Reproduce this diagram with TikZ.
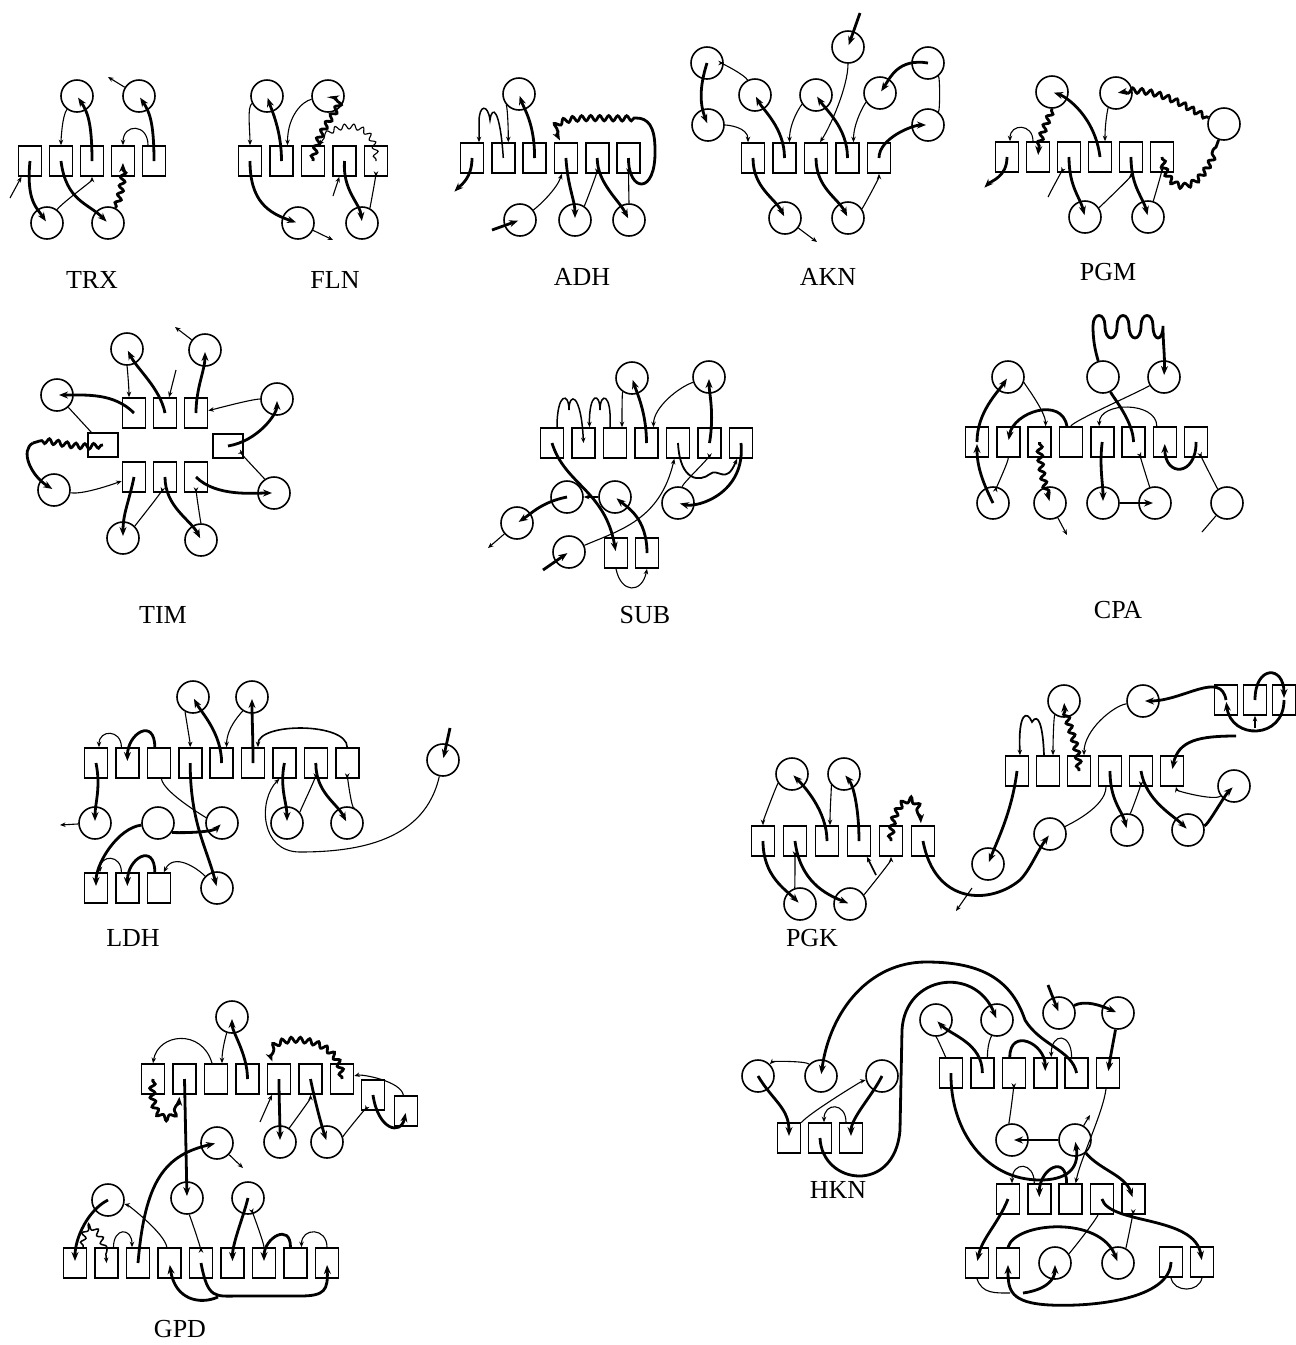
\documentclass[tikz,border=0pt]{standalone}
\usepackage{fontspec}
\setmainfont{Liberation Serif}
\usetikzlibrary{arrows.meta,decorations.pathmorphing}

\begin{document}
\begin{tikzpicture}[x=1pt,y=-1pt,
  res/.style={draw,line width=1.6pt,minimum width=23pt,minimum height=30pt,inner sep=0pt},
  resw/.style={res,minimum width=30pt,minimum height=24pt},
  site/.style={draw,circle,line width=1.6pt,minimum size=32pt,inner sep=0pt},
  strand/.style={line width=2.8pt,-{Stealth[length=9pt,width=7pt]},shorten >=2pt},
  link/.style={line width=1.1pt,-{Stealth[length=5.5pt,width=4.5pt]}},
  tie/.style={line width=1.1pt},
  bond/.style={line width=2.8pt},
  wavy/.style={decorate,decoration={snake,amplitude=2.6pt,segment length=9pt,pre length=2pt,post length=7pt}},
  lbl/.style={font=\fontsize{26}{28}\selectfont}]
\useasboundingbox (0,0) rectangle (1296,1345);

% TRX
\foreach \i in {1,...,5} \node[res] (trx\i) at ({30+31*(\i-1)},161) {};
\node[site] (trxa) at (77,96) {};
\node[site] (trxb) at (139,96) {};
\node[site] (trxc) at (47,223) {};
\node[site] (trxd) at (108,223) {};
\coordinate (trxin) at (10,198);
\coordinate (trxout) at (108,77);
\draw[link] (trxin) -- (trx1);
\draw[strand] (trx1.center) .. controls +(-4,40) and +(-10,-15) .. (trxc.center);
\draw[link] (trxc) .. controls +(15,-20) and +(0,20) .. (trx3);
\draw[strand] (trx2.center) .. controls +(5,40) and +(-20,-20) .. (trxd.center);
\draw[strand,wavy] (trxd) .. controls +(10,-20) and +(0,25) .. (trx4.center);
\draw[link] (trxa) .. controls +(-15,20) and +(0,-20) .. (trx2);
\draw[strand] (trx3.center) .. controls +(0,-40) and +(10,15) .. (trxa.center);
\draw[link] ([xshift=-6pt]trx5.north) .. controls +(0,-22) and +(0,-22) .. (trx4.north);
\draw[strand] (trx5.center) .. controls +(0,-40) and +(10,15) .. (trxb.center);
\draw[link] (trxb) -- (trxout);
\node[lbl] (trxl) at (92,280) {TRX};

% FLN
\foreach \i in {1,...,5} \node[res] (fln\i) at ({250+31.5*(\i-1)},161) {};
\node[site] (flna) at (267,96) {};
\node[site] (flnb) at (328,96) {};
\node[site] (flnc) at (298,223) {};
\node[site] (flnd) at (362,223) {};
\coordinate (flnin) at (333,196);
\coordinate (flnout) at (333,240);
\draw[link] (flna) .. controls +(-20,10) and +(0,-30) .. (fln1);
\draw[strand] (fln2.center) .. controls +(0,-30) and +(5,15) .. (flna.center);
\draw[link] (flnb) .. controls +(-25,5) and +(0,-30) .. ([xshift=6pt]fln2.north);
\draw[strand,wavy] (fln3.center) .. controls +(5,-40) and +(30,5) .. (flnb.center);
\draw[link,wavy] (fln5.center) .. controls +(0,-45) and +(10,-20) .. ([xshift=6pt]fln3.north);
\draw[strand] (fln1.center) .. controls +(0,40) and +(-30,-10) .. (flnc.center);
\draw[link] (flnc) -- (flnout);
\draw[strand] (fln4.center) .. controls +(-2,30) and +(-2,-20) .. (flnd.center);
\draw[link] (flnd) .. controls +(8,-15) and +(0,15) .. (fln5);
\draw[link] (flnin) -- (fln4);
\node[lbl] (flnl) at (335,280) {FLN};

% ADH
\foreach \i in {1,...,6} \node[res] (adh\i) at ({472+31.3*(\i-1)},158) {};
\node[site] (adha) at (519,94) {};
\node[site] (adhb) at (520,220) {};
\node[site] (adhc) at (575,220) {};
\node[site] (adhd) at (629,220) {};
\coordinate (adhk) at (636,118);
\coordinate (adhin) at (492,230);
\coordinate (adhout) at (453,193);
\draw[link,line width=1.5pt] (adh2.center) .. controls (500,108) and (492,105) .. (490,120) .. controls (488,104) and (479,104) .. (479,122) -- ([xshift=7pt]adh1.north);
\draw[link] (adha) .. controls +(-12,10) and +(0,-20) .. ([xshift=5pt]adh2.north);
\draw[strand] (adh3.center) .. controls +(0,-35) and +(5,15) .. (adha.center);
\draw[bond] (adh6.center) .. controls (628,192) and (656,196) .. (655,150) .. controls (655,126) and (648,118) .. (adhk);
\draw[strand,wavy] (adhk) .. controls (600,120) and (540,110) .. ([xshift=-5pt]adh4.north);
\draw[strand] (adh1.center) .. controls +(0,20) and +(8,-8) .. (adhout);
\draw[link] (adhb) .. controls +(20,-15) and +(-5,15) .. ([xshift=-4pt]adh4.south);
\draw[strand] (adhin) -- (adhb.center);
\draw[strand] (adh4.center) .. controls +(2,30) and +(0,-20) .. (adhc.center);
\draw[link] (adhc) .. controls +(10,-15) and +(0,15) .. (adh5);
\draw[strand] (adh5.center) .. controls +(0,25) and +(-10,-20) .. (adhd.center);
\draw[link] (adhd) .. controls +(0,-15) and +(0,15) .. (adh6);
\node[lbl] (adhl) at (582,277) {ADH};

% AKN
\foreach \i in {1,...,5} \node[res] (akn\i) at ({753+31.5*(\i-1)},158) {};
\node[site] (akna) at (848,47) {};
\node[site] (aknb) at (707,63) {};
\node[site] (aknc) at (708,125) {};
\node[site] (aknd) at (755,95) {};
\node[site] (akne) at (816,95) {};
\node[site] (aknf) at (880,93) {};
\node[site] (akng) at (928,63) {};
\node[site] (aknh) at (928,125) {};
\node[site] (akni) at (785,218) {};
\node[site] (aknj) at (848,218) {};
\coordinate (aknin) at (860,13);
\coordinate (aknout) at (817,242);
\draw[strand] (aknin) -- (akna.center);
\draw[link] (akna) .. controls +(0,40) and +(10,-15) .. ([xshift=4pt]akn3.north);
\draw[link] (aknd) .. controls +(-10,-20) and +(15,0) .. (aknb);
\draw[strand] (aknb.center) .. controls +(-8,25) and +(-8,-20) .. (aknc.center);
\draw[link] (aknc) .. controls +(20,0) and +(0,-15) .. ([xshift=-5pt]akn1.north);
\draw[strand] (akn2.center) .. controls +(0,-30) and +(8,15) .. (aknd.center);
\draw[link] (akne) .. controls +(-15,10) and +(0,-20) .. ([xshift=5pt]akn2.north);
\draw[strand] (akn4.center) .. controls +(0,-30) and +(10,15) .. (akne.center);
\draw[link] (aknf) .. controls +(-15,10) and +(0,-20) .. ([xshift=6pt]akn4.north);
\draw[strand] (akng.center) .. controls +(-30,-5) and +(10,-15) .. (aknf.center);
\draw[tie] (akng) .. controls +(12,15) and +(12,-15) .. (aknh);
\draw[strand] (akn5.center) .. controls +(0,-20) and +(-15,0) .. (aknh.center);
\draw[strand] (akn1.center) .. controls +(0,30) and +(-10,-20) .. (akni.center);
\draw[link] (akni) -- (aknout);
\draw[strand] (akn3.center) .. controls +(0,30) and +(-10,-20) .. (aknj.center);
\draw[link] (aknj) .. controls +(15,-10) and +(0,20) .. (akn5);
\node[lbl] (aknl) at (828,277) {AKN};

% PGM
\foreach \i in {1,...,6} \node[res] (pgm\i) at ({1007+31*(\i-1)},157) {};
\node[site] (pgma) at (1052,92) {};
\node[site] (pgmb) at (1116,93) {};
\node[site] (pgmc) at (1224,124) {};
\node[site] (pgmd) at (1085,217) {};
\node[site] (pgme) at (1148,217) {};
\coordinate (pgmin) at (1048,197);
\coordinate (pgmout) at (983,189);
\draw[link] ([xshift=-5pt]pgm2.north) .. controls +(0,-18) and +(0,-18) .. ([xshift=3pt]pgm1.north);
\draw[strand,wavy] (pgma) .. controls +(0,20) and +(0,-20) .. (pgm2.center);
\draw[strand] (pgm4.center) .. controls +(-5,-40) and +(15,5) .. (pgma.center);
\draw[link] (pgmb) .. controls +(-8,15) and +(0,-20) .. ([xshift=5pt]pgm4.north);
\draw[bond,wavy] (pgm6.center) .. controls (1168,195) and (1200,195) .. (pgmc);
\draw[strand,wavy] (pgmc) .. controls (1190,110) and (1160,85) .. (pgmb.center);
\draw[strand] (pgm1.center) .. controls +(0,20) and +(8,-8) .. (pgmout);
\draw[link] (pgmin) .. controls +(5,-10) and +(-5,10) .. (pgm3);
\draw[strand] (pgm3.center) .. controls +(0,30) and +(-5,-20) .. (pgmd.center);
\draw[link] (pgmd) .. controls +(15,-10) and +(0,20) .. (pgm5);
\draw[strand] (pgm5.center) .. controls +(0,30) and +(-5,-20) .. (pgme.center);
\draw[link] (pgme) .. controls +(5,-15) and +(0,15) .. (pgm6);
\node[lbl] (pgml) at (1108,272) {PGM};

% TIM
\foreach \i in {1,2,3} \node[res] (tim\i) at ({134+31*(\i-1)},413) {};
\foreach \i in {4,5,6} \node[res] (tim\i) at ({134+31*(\i-4)},477) {};
\node[resw] (timl) at (103,445) {};
\node[resw] (timr) at (228,446) {};
\node[site] (tima) at (127,349) {};
\node[site] (timb) at (205,350) {};
\node[site] (timc) at (57,395) {};
\node[site] (timd) at (277,399) {};
\node[site] (time) at (54,490) {};
\node[site] (timf) at (274,493) {};
\node[site] (timg) at (123,538) {};
\node[site] (timh) at (201,540) {};
\coordinate (timout) at (175,327);
\coordinate (timin) at (176,370);
\coordinate (timk) at (33,443);
\draw[link] (timb) -- (timout);
\draw[link] (tima) .. controls +(0,15) and +(0,-10) .. ([xshift=-5pt]tim1.north);
\draw[strand] (tim2.center) .. controls +(-5,-25) and +(10,20) .. (tima.center);
\draw[link] (timin) -- (tim2);
\draw[strand] (tim3.center) .. controls +(0,-25) and +(0,20) .. (timb.center);
\draw[strand] (tim1.center) .. controls +(-20,-20) and +(30,0) .. (timc.center);
\draw[tie] (timc) -- (timl);
\draw[bond,wavy] (timl.center) .. controls (70,450) and (50,435) .. (timk);
\draw[strand] (timk) .. controls (20,450) and (30,475) .. (time.center);
\draw[link] (time) .. controls +(30,5) and +(-15,5) .. (tim4);
\draw[link] (timd) .. controls +(-25,0) and +(15,-3) .. (tim3);
\draw[strand] (timr.center) .. controls +(30,-5) and +(0,15) .. (timd.center);
\draw[link] (timf) .. controls +(-10,-15) and +(10,5) .. (timr);
\draw[strand] (tim6.center) .. controls +(20,20) and +(-20,0) .. (timf.center);
\draw[strand] (tim4.center) .. controls +(-5,25) and +(0,-25) .. (timg.center);
\draw[link] (timg) .. controls +(10,-10) and +(-3,15) .. (tim5);
\draw[strand] (tim5.center) .. controls +(0,30) and +(-10,-20) .. (timh.center);
\draw[link] (timh) .. controls +(0,-15) and +(0,15) .. (tim6);
\node[lbl] (timlab) at (163,615) {TIM};

% SUB
\foreach \i in {1,...,7} \node[res] (sub\i) at ({552+31.5*(\i-1)},443) {};
\node[res] (sub8) at (616,553) {};
\node[res] (sub9) at (647,553) {};
\node[site] (suba) at (632,378) {};
\node[site] (subb) at (709,377) {};
\node[site] (subc) at (567,497) {};
\node[site] (subd) at (615,497) {};
\node[site] (sube) at (678,503) {};
\node[site] (subf) at (517,523) {};
\node[site] (subg) at (569,552) {};
\coordinate (subout) at (488,548);
\coordinate (subin) at (543,570);
\draw[link,line width=1.5pt] ([xshift=5pt]sub1.north) .. controls (557,392) and (569,392) .. (569,410) .. controls (569,392) and (581,392) .. (sub2.center);
\draw[link,line width=1.5pt] ([xshift=-5pt]sub3.north) .. controls (612,392) and (600,392) .. (600,410) .. controls (600,392) and (589,392) .. ([xshift=6pt]sub2.north);
\draw[link] (suba) .. controls +(-10,15) and +(0,-15) .. ([xshift=7pt]sub3.north);
\draw[strand] (sub4.center) .. controls +(0,-30) and +(5,15) .. (suba.center);
\draw[link] (subb) .. controls +(-30,10) and +(0,-20) .. ([xshift=7pt]sub4.north);
\draw[strand] (sub6.center) .. controls +(5,-30) and +(0,15) .. (subb.center);
\draw[strand] (sub1.center) .. controls (565,485) and (605,490) .. (sub8.center);
\draw[strand] (subc.center) .. controls +(-25,5) and +(15,-10) .. (subf.center);
\draw[link] (subf) -- (subout);
\draw[link] (subd) -- (subc);
\draw[strand] (sub9.center) .. controls +(0,-35) and +(12,10) .. (subd.center);
\draw[link] (subg) .. controls (620,530) and (660,520) .. (sub5);
\draw[strand] (subin) -- (subg.center);
\draw[link] (sub8.south) .. controls +(5,25) and +(-5,25) .. (sub9.south);
\draw[link,line width=1.8pt] (sub5.center) .. controls (680,482) and (700,482) .. (710,474) .. controls (718,467) and (726,486) .. ([xshift=-4pt]sub7.south);
\draw[link] (sube) .. controls +(5,-20) and +(0,15) .. (sub6);
\draw[strand] (sub7.center) .. controls +(5,50) and +(20,5) .. (sube.center);
\node[lbl] (subl) at (645,615) {SUB};

% CPA
\foreach \i in {1,...,8} \node[res] (cpa\i) at ({977+31.3*(\i-1)},442) {};
\node[site] (cpaa) at (1008,377) {};
\node[site] (cpab) at (1103,377) {};
\node[site] (cpac) at (1164,377) {};
\node[site] (cpad) at (993,503) {};
\node[site] (cpae) at (1050,503) {};
\node[site] (cpaf) at (1103,503) {};
\node[site] (cpag) at (1155,503) {};
\node[site] (cpah) at (1227,503) {};
\coordinate (cpaout) at (1067,535);
\coordinate (cpaend) at (1202,532);
\draw[strand] (cpa1.center) .. controls +(0,-30) and +(-10,15) .. (cpaa.center);
\draw[link] (cpaa) .. controls +(15,5) and +(0,-15) .. ([xshift=6pt]cpa3.north);
\draw[strand] ([xshift=-4pt]cpa4.north) .. controls +(-5,-30) and +(5,-30) .. (cpa2.center);
\draw[tie] (cpac) .. controls +(-25,15) and +(0,-20) .. (cpa4);
\draw[bond] (cpab) .. controls +(10,20) and +(0,-20) .. (cpa6.center);
\draw[strand] (cpab) .. controls (1095,350) and (1093,340) .. (1093,326) .. controls (1093,312) and (1105,312) .. (1105,326) .. controls (1105,342) and (1117,342) .. (1117,326) .. controls (1117,312) and (1129,312) .. (1129,326) .. controls (1129,342) and (1141,342) .. (1141,326) .. controls (1141,312) and (1153,312) .. (1153,326) .. controls (1153,342) and (1163,342) .. (1163,326) .. controls (1163,345) and (1165,355) .. (cpac.center);
\draw[link] ([xshift=-8pt]cpa7.north) .. controls +(0,-25) and +(0,-25) .. ([xshift=-3pt]cpa5.north);
\draw[link] (cpa2) .. controls +(0,20) and +(3,-15) .. (cpad);
\draw[strand] (cpad.center) .. controls +(-10,-20) and +(0,25) .. (cpa1.center);
\draw[strand,wavy] (cpa3.center) .. controls +(0,25) and +(-5,-20) .. (cpae.center);
\draw[link] (cpae) -- (cpaout);
\draw[strand] (cpa5.center) .. controls +(-3,25) and +(0,-20) .. (cpaf.center);
\draw[strand] (cpaf) -- (cpag.center);
\draw[link] (cpag) .. controls +(-5,-15) and +(5,10) .. (cpa6);
\draw[strand] (cpa8.center) .. controls +(0,35) and +(0,35) .. (cpa7.center);
\draw[link] (cpah) .. controls +(-10,-15) and +(5,15) .. (cpa8);
\draw[tie] (cpah) -- (cpaend);
\node[lbl] (cpal) at (1118,610) {CPA};

% LDH
\foreach \i in {1,...,9} \node[res] (ldh\i) at ({96+31.4*(\i-1)},763) {};
\foreach \i in {1,2,3} \node[res] (ldhl\i) at ({96+31.4*(\i-1)},888) {};
\node[site] (ldha) at (193,697) {};
\node[site] (ldhb) at (252,697) {};
\node[site] (ldhc) at (95,823) {};
\node[site] (ldhd) at (158,823) {};
\node[site] (ldhe) at (222,823) {};
\node[site] (ldhf) at (287,823) {};
\node[site] (ldhg) at (347,823) {};
\node[site] (ldhh) at (217,888) {};
\node[site] (ldhi) at (443,760) {};
\coordinate (ldhout) at (60,825);
\coordinate (ldhin) at (450,728);
\draw[link] ([xshift=-6pt]ldh2.north) .. controls +(0,-18) and +(0,-18) .. ([xshift=3pt]ldh1.north);
\draw[strand] ([xshift=-4pt]ldh3.north) .. controls +(0,-30) and +(0,-30) .. (ldh2.center);
\draw[link] (ldha) .. controls +(-8,15) and +(0,-20) .. (ldh4);
\draw[strand] (ldh5.center) .. controls +(0,-30) and +(8,15) .. (ldha.center);
\draw[link] (ldhb) .. controls +(-10,15) and +(0,-20) .. ([xshift=5pt]ldh5.north);
\draw[strand] (ldh6.center) .. controls +(0,-25) and +(0,20) .. (ldhb.center);
\draw[link,line width=1.6pt] (ldh9.north) .. controls +(0,-25) and +(0,-25) .. ([xshift=5pt]ldh6.north);
\draw[strand] (ldh1.center) .. controls +(5,25) and +(0,-20) .. (ldhc.center);
\draw[link] (ldhc) -- (ldhout);
\draw[tie] (ldh3) .. controls +(5,30) and +(-15,-5) .. (ldhe);
\draw[strand] (ldhd) .. controls +(15,10) and +(-10,10) .. (ldhe.center);
\draw[strand] (ldhd) .. controls +(-40,5) and +(0,-25) .. (ldhl1.center);
\draw[link] ([xshift=-6pt]ldhl2.north) .. controls +(0,-18) and +(0,-18) .. ([xshift=4pt]ldhl1.north);
\draw[strand] ([xshift=-4pt]ldhl3.north) .. controls +(0,-30) and +(0,-30) .. (ldhl2.center);
\draw[link] (ldhh) .. controls +(-20,-20) and +(10,-20) .. ([xshift=5pt]ldhl3.north);
\draw[strand] (ldh4.center) .. controls +(0,60) and +(-10,-40) .. (ldhh.center);
\draw[strand] (ldh7.center) .. controls +(-5,25) and +(0,-20) .. (ldhf.center);
\draw[link] (ldhf) .. controls +(12,-10) and +(0,15) .. (ldh8);
\draw[strand] (ldh8.center) .. controls +(0,30) and +(-10,-20) .. (ldhg.center);
\draw[link] (ldhg) .. controls +(5,-10) and +(0,12) .. (ldh9);
\draw[link] (ldhi) .. controls (425,840) and (360,852) .. (300,852) .. controls (260,852) and (258,800) .. ([xshift=-5pt]ldh7.south);
\draw[strand] (ldhin) -- (ldhi.center);
\node[lbl] (ldhlab) at (133,938) {LDH};

% PGK
\foreach \i in {1,...,6} \node[res] (pgk\i) at ({763+32*(\i-1)},841) {};
\foreach \i in {7,...,12} \node[res] (pgk\i) at ({1017+31*(\i-7)},771) {};
\foreach \i in {13,14,15} \node[res] (pgk\i) at ({1226+29*(\i-13)},700) {};
\node[site] (pgka) at (792,774) {};
\node[site] (pgkb) at (844,774) {};
\node[site] (pgkc) at (800,904) {};
\node[site] (pgkd) at (850,904) {};
\node[site] (pgke) at (1064,701) {};
\node[site] (pgkf) at (1143,701) {};
\node[site] (pgkg) at (1050,834) {};
\node[site] (pgkh) at (988,864) {};
\node[site] (pgki) at (1127,830) {};
\node[site] (pgkj) at (1188,830) {};
\node[site] (pgkk) at (1234,786) {};
\coordinate (pgkin) at (876,875);
\coordinate (pgkcut) at (972,888);
\coordinate (pgkout) at (956,911);
\coordinate (pgkt) at (1255,728);
\coordinate (pgkfree) at (1236,736);
\draw[link] (pgka) .. controls +(-15,10) and +(0,-20) .. (pgk1);
\draw[strand] (pgk3.center) .. controls +(0,-30) and +(12,12) .. (pgka.center);
\draw[link] (pgkb) .. controls +(-12,10) and +(0,-20) .. ([xshift=3pt]pgk3.north);
\draw[strand] (pgk4.center) .. controls +(0,-30) and +(10,12) .. (pgkb.center);
\draw[strand,wavy] (pgk5.center) .. controls +(0,-40) and +(0,-40) .. ([xshift=-2pt]pgk6.north);
\draw[strand] (pgk1.center) .. controls +(0,35) and +(-15,-15) .. (pgkc.center);
\draw[link] (pgkc) .. controls +(-5,-15) and +(0,15) .. (pgk2);
\draw[strand] (pgk2.center) .. controls +(5,40) and +(-25,-10) .. (pgkd.center);
\draw[link] (pgkd) .. controls +(15,-10) and +(0,20) .. (pgk5);
\draw[link,line width=1.7pt] (pgkin) -- (pgk4);
\draw[strand] (pgk6.center) .. controls (935,905) and (990,905) .. (1020,880) .. controls (1030,870) and (1038,850) .. (pgkg.center);
\draw[link] (pgkcut) -- (pgkout);
\draw[strand] (pgk7.center) .. controls +(-5,40) and +(10,-25) .. (pgkh.center);
\draw[link,line width=1.7pt] ([xshift=-4pt]pgk8.north) .. controls (1043,725) and (1038,712) .. (1032,722) .. controls (1027,710) and (1018,712) .. ([xshift=3pt]pgk7.north);
\draw[link] (pgke) .. controls +(-10,15) and +(0,-20) .. ([xshift=5pt]pgk8.north);
\draw[strand,wavy] (pgk9.center) .. controls +(0,-25) and +(0,20) .. (pgke.center);
\draw[link] (pgkf) .. controls +(-30,5) and +(0,-25) .. ([xshift=5pt]pgk9.north);
\draw[strand] (pgk13.center) .. controls +(-5,-30) and +(40,0) .. (pgkf.center);
\draw[strand] (pgk14.center) .. controls +(0,-35) and +(0,-35) .. (pgk15.center);
\draw[strand] (pgk15.center) .. controls +(0,40) and +(5,40) .. (pgk13.center);
\draw[link] (pgkt) -- (pgk14);
\draw[strand] (pgkfree) .. controls (1200,736) and (1178,740) .. (pgk12.center);
\draw[link] (pgkk) .. controls +(-20,15) and +(5,20) .. (pgk12);
\draw[strand] (pgkj) .. controls +(20,-5) and +(-10,10) .. (pgkk.center);
\draw[strand] (pgk11.center) .. controls +(5,30) and +(-15,-15) .. (pgkj.center);
\draw[link] (pgki) .. controls +(3,-15) and +(0,15) .. (pgk11);
\draw[strand] (pgk10.center) .. controls +(0,30) and +(-5,-20) .. (pgki.center);
\draw[tie] (pgkg) .. controls +(20,-10) and +(0,20) .. ([xshift=-4pt]pgk10.south);
\node[lbl] (pgkl) at (812,938) {PGK};

% GPD
\foreach \i in {1,...,7} \node[res] (gpd\i) at ({153+31.5*(\i-1)},1079) {};
\node[res] (gpd8) at (373,1095) {};
\node[res] (gpd9) at (406,1111) {};
\foreach \i in {1,...,9} \node[res] (gpdl\i) at ({75+31.5*(\i-1)},1263) {};
\node[site] (gpda) at (232,1017) {};
\node[site] (gpdc) at (280,1142) {};
\node[site] (gpdd) at (327,1142) {};
\node[site] (gpde) at (217,1143) {};
\node[site] (gpdf) at (187,1198) {};
\node[site] (gpdg) at (248,1198) {};
\node[site] (gpdh) at (108,1200) {};
\coordinate (gpdin) at (260,1122);
\coordinate (gpdout) at (243,1168);
\coordinate (gpdfree) at (218,1297);
\draw[link] ([xshift=-4pt]gpd3.north) .. controls +(-10,-35) and +(5,-30) .. (gpd1.north);
\draw[link] (gpda) .. controls +(-5,15) and +(0,-15) .. ([xshift=6pt]gpd3.north);
\draw[strand] (gpd4.center) .. controls +(0,-25) and +(0,15) .. (gpda.center);
\draw[strand,wavy] (gpd7.center) .. controls (340,1030) and (255,1035) .. ([xshift=-6pt]gpd5.north);
\draw[link] (gpd9) .. controls +(-5,-30) and +(20,-5) .. (gpd7);
\draw[strand,wavy] (gpd1.center) .. controls (148,1125) and (180,1125) .. ([xshift=-5pt]gpd2.south);
\draw[strand] (gpd2.center) -- (gpdf.center);
\draw[link] (gpdin) -- (gpd5);
\draw[strand] (gpd5.center) .. controls +(0,20) and +(0,-20) .. (gpdc.center);
\draw[link] (gpdc) .. controls +(10,-15) and +(0,20) .. (gpd6);
\draw[strand] (gpd6.center) .. controls +(5,25) and +(-5,-15) .. (gpdd.center);
\draw[link] (gpdd) .. controls +(15,-5) and +(-5,10) .. (gpd8);
\draw[strand] (gpd8.center) .. controls +(5,35) and +(-5,25) .. (gpd9.center);
\draw[strand] (gpdl3.center) .. controls (145,1180) and (165,1155) .. (gpde.center);
\draw[link] (gpde) -- (gpdout);
\draw[strand] (gpdh.center) .. controls +(-20,10) and +(0,-25) .. (gpdl1.center);
\draw[link,line width=1.5pt,wavy] ([xshift=8pt]gpdl1.north) .. controls +(0,-35) and +(0,-30) .. (gpdl2.center);
\draw[link] ([xshift=7pt]gpdl2.north) .. controls +(0,-20) and +(0,-20) .. ([xshift=-6pt]gpdl3.north);
\draw[link] (gpdl4) .. controls +(-5,-30) and +(20,5) .. (gpdh);
\draw[link] (gpdf) .. controls +(2,15) and +(0,-15) .. (gpdl5);
\draw[strand] (gpdg.center) .. controls +(-5,20) and +(0,-20) .. (gpdl6.center);
\draw[link] (gpdl7) .. controls +(0,-20) and +(3,10) .. (gpdg);
\draw[strand] ([xshift=-5pt]gpdl8.north) .. controls +(0,-25) and +(0,-25) .. (gpdl7.center);
\draw[link] (gpdl9.north) .. controls +(0,-20) and +(0,-20) .. ([xshift=6pt]gpdl8.north);
\draw[strand] (gpdl5.center) .. controls (208,1300) and (215,1296) .. (240,1296) -- (300,1296) .. controls (325,1296) and (328,1290) .. (gpdl9.center);
\draw[strand] (gpdfree) .. controls (200,1305) and (175,1300) .. (gpdl4.center);
\node[lbl] (gpdlab) at (180,1329) {GPD};

% HKN
\foreach \i in {1,2,3} \node[res] (hkn\i) at ({789+31*(\i-1)},1138) {};
\foreach \i in {4,...,9} \node[res] (hkn\i) at ({951+31.4*(\i-4)},1073) {};
\foreach \i in {10,...,14} \node[res] (hkn\i) at ({1008+31.3*(\i-10)},1199) {};
\node[res] (hkn15) at (977,1263) {};
\node[res] (hkn16) at (1008,1263) {};
\node[res] (hkn17) at (1171,1262) {};
\node[res] (hkn18) at (1202,1262) {};
\node[site] (hkna) at (758,1076) {};
\node[site] (hknb) at (821,1076) {};
\node[site] (hknc) at (882,1076) {};
\node[site] (hknd) at (936,1020) {};
\node[site] (hkne) at (997,1020) {};
\node[site] (hknf) at (1059,1013) {};
\node[site] (hkng) at (1118,1013) {};
\node[site] (hknh) at (1012,1140) {};
\node[site] (hkni) at (1075,1140) {};
\node[site] (hknj) at (1055,1263) {};
\node[site] (hknk) at (1118,1263) {};
\coordinate (hknin) at (1048,985);
\coordinate (hknout) at (1090,1115);
\coordinate (hknfree) at (1010,1293);
\coordinate (hknfree2) at (1023,1293);
\draw[strand] (hkn8.center) .. controls (1072,1050) and (1040,1045) .. (1025,1020) .. controls (1010,975) and (975,962) .. (926,962) .. controls (870,962) and (830,1010) .. (hknb.center);
\draw[strand] (hkn2.center) .. controls (822,1185) and (895,1195) .. (900,1130) -- (902,1030) .. controls (905,975) and (975,965) .. (hkne.center);
\draw[strand] (hkna.center) .. controls +(15,25) and +(0,-30) .. (hkn1.center);
\draw[link] (hknb) .. controls +(-15,-15) and +(15,-15) .. (hkna);
\draw[link] (hkn1) .. controls +(20,-25) and +(-20,5) .. (hknc);
\draw[strand] (hknc.center) .. controls +(-10,20) and +(0,-20) .. (hkn3.center);
\draw[link] ([xshift=-5pt]hkn3.north) .. controls +(0,-20) and +(0,-20) .. ([xshift=4pt]hkn2.north);
\draw[tie] (hknd) .. controls +(0,15) and +(-5,-15) .. (hkn4);
\draw[strand] (hkn5.center) .. controls +(0,-30) and +(15,15) .. (hknd.center);
\draw[tie] (hkne) .. controls +(-5,15) and +(0,-15) .. ([xshift=5pt]hkn5.north);
\draw[strand] ([xshift=-4pt]hkn6.north) .. controls +(0,-30) and +(0,-30) .. (hkn7.center);
\draw[link] ([xshift=-5pt]hkn8.north) .. controls +(0,-25) and +(0,-25) .. ([xshift=6pt]hkn7.north);
\draw[strand] (hknin) -- (hknf.center);
\draw[strand] (hknf) .. controls (1085,1000) and (1100,1005) .. (hkng.center);
\draw[strand] (hkng) .. controls +(-3,20) and +(3,-20) .. (hkn9.center);
\draw[strand] (hkn4.center) .. controls (950,1130) and (985,1180) .. (1040,1180) .. controls (1065,1180) and (1080,1170) .. (hkni.center);
\draw[link] (hknh) .. controls +(-3,-15) and +(0,15) .. (hkn6);
\draw[link] (hkni) -- (hknout);
\draw[strand] (hkni) -- (hknh.center);
\draw[strand] (hkni) .. controls (1100,1170) and (1125,1175) .. (hkn14.center);
\draw[link] (hkn9) .. controls +(-5,40) and +(5,-25) .. ([xshift=5pt]hkn12.north);
\draw[link] ([xshift=-5pt]hkn11.north) .. controls +(0,-22) and +(0,-22) .. ([xshift=4pt]hkn10.north);
\draw[strand] ([xshift=-4pt]hkn12.north) .. controls +(0,-30) and +(0,-30) .. (hkn11.center);
\draw[strand] (hkn10.center) .. controls +(-10,25) and +(5,-25) .. (hkn15.center);
\draw[tie] (hkn13) .. controls +(-5,20) and +(15,-10) .. (hknj);
\draw[strand] (hkn13.center) .. controls (1110,1225) and (1195,1215) .. (hkn18.center);
\draw[link] (hknk) .. controls +(8,-15) and +(0,15) .. (hkn14);
\draw[strand] (hkn16.north) .. controls (1015,1222) and (1100,1215) .. (hknk.center);
\draw[tie] (hkn15.south) .. controls +(5,15) and +(-15,0) .. (hknfree);
\draw[strand] (hknfree2) .. controls (1045,1290) and (1055,1280) .. (hknj.center);
\draw[strand] (hkn17.center) .. controls (1170,1300) and (1090,1307) .. (1050,1305) .. controls (1010,1303) and (1008,1290) .. (hkn16.center);
\draw[tie] (hkn17.south) .. controls +(3,15) and +(-3,15) .. (hkn18.south);
\node[lbl] (hknl) at (838,1190) {HKN};
\end{tikzpicture}
\end{document}
